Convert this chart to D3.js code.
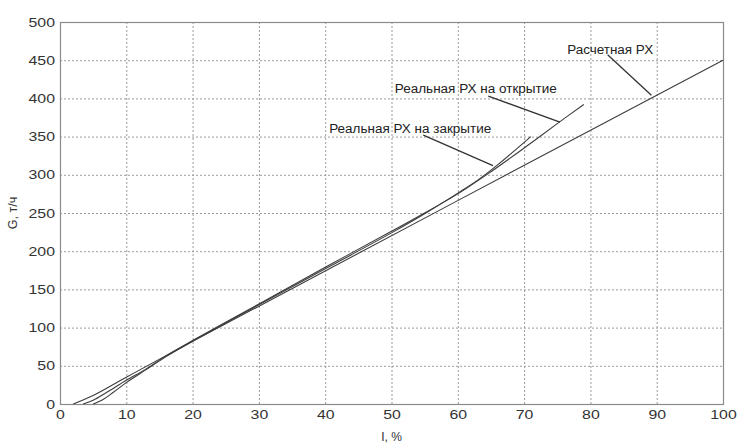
<!DOCTYPE html>
<html>
<head>
<meta charset="utf-8">
<script src="https://cdn.jsdelivr.net/npm/d3@7/dist/d3.min.js"></script>
<style>
  body { margin: 0; background: #fff; }
  text { font-family: "Liberation Sans", Arial, sans-serif; }
</style>
</head>
<body>
<svg id="chart" width="737" height="444"></svg>
<script>
/* ---------- data ---------- */
const xTicks = [0, 10, 20, 30, 40, 50, 60, 70, 80, 90, 100];
const yTicks = [0, 50, 100, 150, 200, 250, 300, 350, 400, 450, 500];

// Расчетная РХ
const calcL = [2, 5, 10, 20, 100];
const calcG = [0, 11, 35, 82, 450];
// Реальная РХ на открытие
const openL = [3.5, 5, 7, 10, 13, 16, 20, 30, 40, 50, 55, 60, 65, 70, 75, 79];
const openG = [0, 5, 15, 31, 46, 63, 83, 131, 179, 226, 250, 275, 304, 335, 367, 392];
// Реальная РХ на закрытие
const closeL = [5, 6.5, 8, 10, 13, 16, 20, 30, 40, 50, 55, 60, 63, 66, 69, 71];
const closeG = [0, 6, 15, 28, 45, 62, 82, 130, 177, 224, 249, 276, 293, 313, 335, 350];

// callouts: label text, label anchor (L, G), leader from -> to
const notes = [
  { text: "Расчетная РХ", at: [76.5, 464], from: [82.6, 457], to: [89.2, 404], w: 86 },
  { text: "Реальная РХ на открытие", at: [50.5, 412], from: [64.6, 403], to: [75.4, 369], w: 162 },
  { text: "Реальная РХ на закрытие", at: [40.6, 360], from: [54.8, 352], to: [65.3, 312], w: 162 },
];

const zip = (xs, ys) => xs.map((x, i) => ({ x, y: ys[i] }));

/* ---------- layout ---------- */
const W = 737, H = 444;
const m = { left: 60, right: 14, top: 22, bottom: 40 };
const svg = d3.select("#chart");

const x = d3.scaleLinear().domain([0, 100]).range([m.left, W - m.right]);
const y = d3.scaleLinear().domain([0, 500]).range([H - m.bottom, m.top]);

/* --- grid --- */
const grid = svg.append("g").attr("stroke", "#9a9a9a").attr("stroke-dasharray", "2,2");
grid.selectAll("line.v")
  .data(xTicks.slice(1, -1))
  .join("line")
  .attr("x1", (d) => x(d) + 0.5).attr("x2", (d) => x(d) + 0.5)
  .attr("y1", y(500)).attr("y2", y(0));
grid.selectAll("line.h")
  .data(yTicks.slice(1, -1))
  .join("line")
  .attr("y1", (d) => y(d) + 0.5).attr("y2", (d) => y(d) + 0.5)
  .attr("x1", x(0)).attr("x2", x(100));

/* --- frame --- */
svg.append("rect")
  .attr("x", x(0) + 0.5).attr("y", y(500) + 0.5)
  .attr("width", x(100) - x(0)).attr("height", y(0) - y(500))
  .attr("fill", "none").attr("stroke", "#8a8a8a").attr("stroke-width", 1.2);

/* --- axes --- */
const stretch = (sel, k) =>
  sel.each(function () {
    const len = this.getComputedTextLength();
    d3.select(this).attr("textLength", len * k).attr("lengthAdjust", "spacingAndGlyphs");
  });

const gx = svg.append("g")
  .attr("transform", `translate(0,${y(0)})`)
  .call(d3.axisBottom(x).tickValues(xTicks).tickSize(0).tickPadding(6));
const gy = svg.append("g")
  .attr("transform", `translate(${x(0)},0)`)
  .call(d3.axisLeft(y).tickValues(yTicks).tickSize(0).tickPadding(5));
[gx, gy].forEach((g) => {
  g.select(".domain").remove();
  g.selectAll("text")
    .attr("font-size", 13).attr("fill", "#333")
    .attr("font-family", '"Liberation Sans", Arial, sans-serif')
    .call(stretch, 1.22);
});

svg.append("text")
  .attr("x", (x(0) + x(100)) / 2).attr("y", H - 3)
  .attr("text-anchor", "middle").attr("font-size", 12).attr("fill", "#333")
  .text("I, %");
svg.append("text")
  .attr("transform", `translate(17,${(y(0) + y(500)) / 2}) rotate(-90)`)
  .attr("text-anchor", "middle").attr("font-size", 12.5).attr("fill", "#333")
  .text("G, т/ч");

/* --- curves --- */
const smooth = d3.line().x((d) => x(d.x)).y((d) => y(d.y)).curve(d3.curveCatmullRom.alpha(0.5));

const series = [zip(calcL, calcG), zip(openL, openG), zip(closeL, closeG)];
svg.append("g")
  .selectAll("path")
  .data(series)
  .join("path")
  .attr("d", smooth)
  .attr("fill", "none")
  .attr("stroke", "#3c3c3c")
  .attr("stroke-width", 1.1);

/* --- callouts --- */
const ann = svg.append("g");
ann.selectAll("line")
  .data(notes)
  .join("line")
  .attr("x1", (d) => x(d.from[0])).attr("y1", (d) => y(d.from[1]))
  .attr("x2", (d) => x(d.to[0])).attr("y2", (d) => y(d.to[1]))
  .attr("stroke", "#333").attr("stroke-width", 1.3);
ann.selectAll("text")
  .data(notes)
  .join("text")
  .attr("x", (d) => x(d.at[0])).attr("y", (d) => y(d.at[1]))
  .attr("dy", "0.35em")
  .attr("font-size", 12).attr("fill", "#222")
  .attr("textLength", (d) => d.w).attr("lengthAdjust", "spacingAndGlyphs")
  .text((d) => d.text);
</script>
</body>
</html>
